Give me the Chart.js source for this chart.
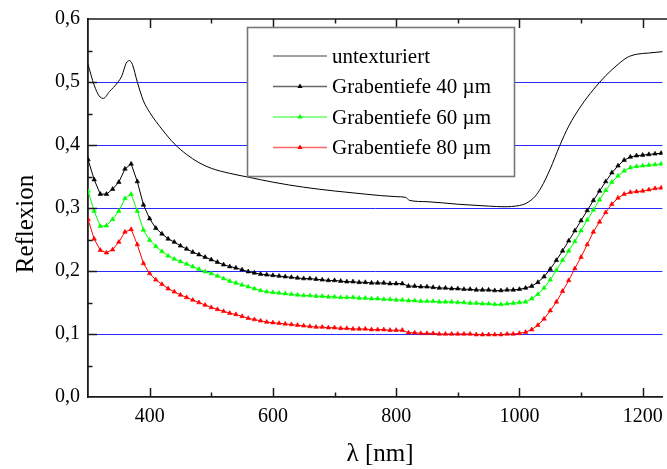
<!DOCTYPE html>
<html>
<head>
<meta charset="utf-8">
<script src="https://cdn.jsdelivr.net/npm/chart.js@4"></script>
<style>
html,body{margin:0;padding:0;background:#fff;}
#wrap{width:667px;height:469px;}
</style>
</head>
<body>
<div id="wrap"><canvas id="c" width="667" height="469"></canvas></div>
<script>
// ---- data ----
const wavelengths = [300,310,320,330,340,350,360,370,380,390,400,410,420,430,440,450,460,470,480,490,500,510,520,530,540,550,560,570,580,590,600,610,620,630,640,650,660,670,680,690,700,710,720,730,740,750,760,770,780,790,800,810,820,830,840,850,860,870,880,890,900,910,920,930,940,950,960,970,980,990,1000,1010,1020,1030,1040,1050,1060,1070,1080,1090,1100,1110,1120,1130,1140,1150,1160,1170,1180,1190,1200,1210,1220,1230,1240];
const tiefe40 = [0.377,0.345,0.322,0.322,0.330,0.341,0.362,0.370,0.342,0.305,0.283,0.268,0.259,0.251,0.246,0.240,0.235,0.230,0.226,0.222,0.218,0.214,0.210,0.207,0.205,0.202,0.199,0.197,0.195,0.194,0.193,0.192,0.191,0.190,0.189,0.188,0.188,0.187,0.186,0.185,0.185,0.184,0.183,0.183,0.182,0.182,0.181,0.181,0.181,0.180,0.180,0.180,0.176,0.176,0.175,0.175,0.174,0.173,0.173,0.172,0.172,0.171,0.171,0.170,0.170,0.170,0.169,0.169,0.170,0.170,0.171,0.173,0.176,0.182,0.191,0.203,0.217,0.232,0.248,0.264,0.280,0.296,0.312,0.327,0.342,0.356,0.367,0.376,0.381,0.383,0.384,0.385,0.386,0.387,0.388];
const tiefe60 = [0.327,0.295,0.271,0.272,0.282,0.295,0.315,0.322,0.295,0.265,0.249,0.239,0.231,0.224,0.219,0.215,0.211,0.207,0.203,0.199,0.196,0.192,0.188,0.184,0.181,0.178,0.175,0.172,0.169,0.167,0.166,0.165,0.164,0.163,0.162,0.161,0.161,0.160,0.160,0.159,0.159,0.158,0.158,0.158,0.157,0.157,0.156,0.156,0.155,0.155,0.154,0.154,0.153,0.153,0.152,0.152,0.152,0.151,0.151,0.151,0.150,0.150,0.149,0.149,0.148,0.148,0.147,0.147,0.148,0.149,0.150,0.151,0.156,0.163,0.173,0.186,0.201,0.217,0.232,0.247,0.264,0.281,0.297,0.313,0.328,0.341,0.351,0.359,0.364,0.366,0.367,0.368,0.369,0.370,0.371];
const tiefe80 = [0.282,0.251,0.233,0.229,0.234,0.246,0.262,0.266,0.242,0.212,0.196,0.186,0.179,0.172,0.167,0.162,0.158,0.154,0.150,0.146,0.142,0.139,0.136,0.133,0.131,0.128,0.125,0.123,0.121,0.119,0.118,0.117,0.116,0.115,0.114,0.113,0.112,0.111,0.111,0.110,0.110,0.109,0.109,0.108,0.108,0.108,0.107,0.107,0.107,0.106,0.106,0.106,0.102,0.102,0.101,0.101,0.101,0.100,0.100,0.100,0.100,0.100,0.100,0.099,0.099,0.099,0.099,0.099,0.100,0.100,0.101,0.103,0.107,0.114,0.124,0.137,0.151,0.168,0.185,0.204,0.222,0.242,0.262,0.278,0.293,0.306,0.316,0.322,0.325,0.326,0.327,0.329,0.331,0.332,0.334];
const untexWl = [300,310,318,325,335,348,355,362,367,372,380,390,400,420,440,460,480,500,530,560,600,650,700,750,800,815,822,850,900,950,975,1000,1012,1025,1035,1050,1065,1080,1100,1120,1140,1160,1175,1190,1210,1240];
const untexVals = [0.528,0.495,0.478,0.474,0.485,0.499,0.510,0.530,0.534,0.528,0.500,0.470,0.452,0.425,0.402,0.385,0.372,0.363,0.355,0.349,0.341,0.333,0.327,0.322,0.318,0.317,0.312,0.310,0.306,0.303,0.302,0.304,0.308,0.318,0.332,0.362,0.398,0.430,0.462,0.488,0.510,0.528,0.539,0.544,0.546,0.549];
const seriesLabels = ['untexturiert','Grabentiefe 40 µm','Grabentiefe 60 µm','Grabentiefe 80 µm'];
const xTickLabels = [400,600,800,1000,1200];
const yTickLabels = ['0,0','0,1','0,2','0,3','0,4','0,5','0,6'];
const xTitle = 'λ [nm]';
const yTitle = 'Reflexion';

const FONT = "'Liberation Serif','Times New Roman',serif";
const pts = (xs, ys) => xs.map((x,i)=>({x:x,y:ys[i]}));

const axisPlugin = {
  id:'axisPlugin',
  afterDatasetsDraw(chart){
    const ctx = chart.ctx, a = chart.chartArea;
    const xs = chart.scales.x, ys = chart.scales.y;
    ctx.save();
    ctx.strokeStyle = '#1a1a1a';
    ctx.lineWidth = 1.6;
    ctx.beginPath(); ctx.moveTo(a.left, a.top); ctx.lineTo(chart.width, a.top); ctx.stroke();
    ctx.lineWidth = 1.5;
    xs.ticks.forEach(t=>{
      const v = t.value;
      if (Math.abs(v/100 - Math.round(v/100))>1e-6) return;
      const major = Math.abs(v/200 - Math.round(v/200))<1e-6;
      const len = major ? 9 : 4.5;
      const px = Math.round(xs.getPixelForValue(v))+0.5;
      if (px<=a.left+1 || px>=a.right-1) return;
      ctx.beginPath(); ctx.moveTo(px, a.bottom); ctx.lineTo(px, a.bottom-len); ctx.stroke();
      ctx.beginPath(); ctx.moveTo(px, a.top); ctx.lineTo(px, a.top+len); ctx.stroke();
    });
    ys.ticks.forEach(t=>{
      const v = t.value;
      const major = Math.abs(v*10 - Math.round(v*10))<1e-6;
      const len = major ? 9 : 4.5;
      const py = Math.round(ys.getPixelForValue(v))+0.5;
      if (py<=a.top+1 || py>=a.bottom-1) return;
      ctx.beginPath(); ctx.moveTo(a.left, py); ctx.lineTo(a.left+len, py); ctx.stroke();
    });
    const bx=247.5, by=27.5, bw=267, bh=149;
    ctx.fillStyle='#fff';
    ctx.fillRect(bx,by,bw,bh);
    ctx.strokeStyle='#777'; ctx.lineWidth=1.6;
    ctx.strokeRect(bx,by,bw,bh);
    const rowY=[56,86.5,117,147.5];
    ctx.font = "21px "+FONT;
    ctx.textBaseline='middle'; ctx.textAlign='left';
    chart.data.datasets.forEach((ds,i)=>{
      const y=rowY[i];
      ctx.strokeStyle = ds.borderColor; ctx.lineWidth = i===0?1:1.6;
      ctx.globalAlpha = i===0?0.75:0.6;
      ctx.beginPath(); ctx.moveTo(273,y); ctx.lineTo(327,y); ctx.stroke();
      ctx.globalAlpha = 1;
      if (i>0){
        ctx.fillStyle = ds.pointBackgroundColor;
        ctx.beginPath(); ctx.moveTo(300,y-3); ctx.lineTo(302.6,y+1.5); ctx.lineTo(297.4,y+1.5); ctx.closePath(); ctx.fill();
      }
      ctx.fillStyle='#000';
      ctx.fillText(ds.label, 332, y+1);
    });
    ctx.fillStyle='#000';
    ctx.font = "25px "+FONT;
    ctx.textAlign='center'; ctx.textBaseline='alphabetic';
    ctx.fillText(xTitle, 380, 461);
    ctx.save();
    ctx.translate(33, 224); ctx.rotate(-Math.PI/2);
    ctx.fillText(yTitle, 0, 0);
    ctx.restore();
    ctx.restore();
  }
};

const markerDs = (label, vals, color) => ({
  label, data: pts(wavelengths, vals), borderColor: color, backgroundColor: color,
  pointBackgroundColor: color, pointBorderColor: color, borderWidth: 1,
  pointStyle:'triangle', pointRadius: 2.6, pointBorderWidth: 0.6, tension: 0
});

new Chart(document.getElementById('c'), {
  type:'line',
  data:{
    datasets:[
      {label:seriesLabels[0], data:pts(untexWl, untexVals), borderColor:'#000', borderWidth:1, pointRadius:0, cubicInterpolationMode:'monotone'},
      markerDs(seriesLabels[1], tiefe40, '#000000'),
      markerDs(seriesLabels[2], tiefe60, '#00ff00'),
      markerDs(seriesLabels[3], tiefe80, '#ff0000')
    ]
  },
  options:{
    responsive:false, animation:false, devicePixelRatio:1,
    layout:{padding:{top:19,right:0,left:0,bottom:0}},
    plugins:{legend:{display:false}, tooltip:{enabled:false}},
    scales:{
      x:{
        type:'linear', min:300, max:1232,
        afterFit(s){ s.height = 72; s.paddingLeft = 0; s.paddingRight = 0; },
        grid:{display:false, drawTicks:false},
        border:{display:true, color:'#1a1a1a', width:1.8},
        ticks:{
          stepSize:100, includeBounds:false, autoSkip:false, maxRotation:0, padding:8, color:'#000',
          font:{family:FONT, size:20},
          callback:(v)=> xTickLabels.includes(Math.round(v)) && Math.abs(v-Math.round(v))<1e-6 ? String(Math.round(v)) : ''
        }
      },
      y:{
        min:0, max:0.6,
        afterFit(s){ s.width = 88; s.paddingTop = 0; s.paddingBottom = 0; },
        grid:{
          drawTicks:false, lineWidth:1,
          color:(c)=>{ const v=c.tick?c.tick.value:0; const m=Math.abs(v*10-Math.round(v*10))<1e-6; return (m && v>0.05 && v<0.55) ? '#2a2aff' : 'rgba(0,0,0,0)'; }
        },
        border:{display:true, color:'#1a1a1a', width:1.8},
        ticks:{
          stepSize:0.05, autoSkip:false, padding:8, color:'#000',
          font:{family:FONT, size:20},
          callback:(v)=>{ const k=Math.round(v*10); return Math.abs(v*10-k)<1e-6 ? yTickLabels[k] : ''; }
        }
      }
    }
  },
  plugins:[axisPlugin]
});
</script>
</body>
</html>
